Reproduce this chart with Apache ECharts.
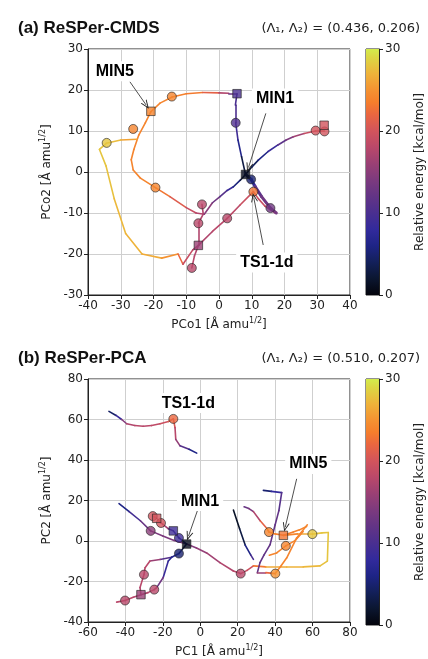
<!DOCTYPE html>
<html>
<head>
<meta charset="utf-8">
<script src="https://cdn.jsdelivr.net/npm/echarts@6/dist/echarts.min.js"></script>
<style>
  html, body { margin: 0; padding: 0; background: #fff; }
  #chart { width: 428px; height: 659px; }
</style>
</head>
<body>
<div id="chart"></div>
<script>
  // each path point: [x, y, relative energy]
  // (a) ReSPer-CMDS
  var cmdsArc = [[-20.8,14.7,24],[-18,16.8,24],[-14.3,18.3,24],[-10,19.1,23.5],[-5,19.4,23],[0,19.3,20],[3,19.2,15],[5.5,19.1,10]];
  var cmdsDown = [[5.5,19.1,10],[5.0,16.3,10],[5.1,12,10.5],[5.8,7.8,8],[6.9,3.7,5],[8.1,-0.6,1]];
  var cmdsLoop = [[-20.8,14.7,24],[-22.5,12,24],[-24.5,9,24],[-26,5.5,24],[-26.8,3,24],[-26.2,0.5,24],[-24,-1.5,24],[-19.4,-3.8,24],[-15,-6,22],[-10,-8.7,20],[-7,-10,18],[-4.5,-10.3,17]];
  var cmdsYellow = [[-25,8,25],[-30,7.8,27],[-34.4,7,28],[-36.5,5.5,28],[-34.5,1.5,28],[-32,-6.5,27.5],[-28.5,-15,27],[-23.5,-20,27],[-17.5,-21,26],[-12.5,-20,24],[-11,-22.5,20],[-8,-19,18],[-6.3,-17.9,17]];
  var cmdsToTS = [[-6.3,-17.9,17],[-2,-14.5,18],[2.5,-11.3,18],[6.5,-8,18.5],[10.5,-4.8,20]];
  var cmdsLow = [[-6.3,-17.9,17],[-7.5,-20.5,18],[-8.3,-23.4,18]];
  var cmdsUp = [[-6.3,-17.9,17],[-6.3,-12.5,18],[-4.8,-10.3,17],[-5.2,-7.9,18]];
  var cmdsToMin1 = [[-4.5,-10.3,16],[-2,-7.5,14],[0.3,-6,12],[2.5,-4.5,10],[4.4,-3.6,7],[6.5,-2,4],[8.1,-0.6,1]];
  var cmdsRight = [[8.1,-0.6,1],[10,1.2,3],[12,2.9,5],[15,5,7],[18,6.6,10],[20.5,7.8,13],[22.7,8.6,15],[26,9.4,18],[29.5,10,20],[32.2,10,20]];
  var cmdsThick = [[8.1,-0.6,1],[9.8,-1.8,5],[11,-3.5,10],[13,-6,13],[15.7,-8.8,13],[17.5,-10,14]];
  var cmdsTSRight = [[10.5,-4.8,20],[12,-6.5,19],[14,-8.3,19],[17.2,-10,19]];
  var cmdsCircles = [[5.1,12,10.5],[9.8,-1.8,5],[10.5,-4.8,23],[15.7,-8.8,13],[2.5,-11.3,18],[-5.2,-7.9,18],[-6.3,-12.5,18],[-8.3,-23.4,18],[-19.4,-3.8,24],[-34.3,7.1,28],[-26.2,10.5,24],[-14.4,18.4,24],[29.5,10.1,20],[32.2,9.9,20]];
  var cmdsSquares = [[5.5,19.1,10],[8.1,-0.6,1],[-6.3,-17.9,16],[-20.8,14.8,24],[32.1,11.4,20]];

  // (b) ReSPer-PCA
  var pcaTop = [[-48.8,64,4],[-45,62,5],[-42,60,12],[-39.3,57.9,17],[-35,57,18],[-30.5,56.7,18],[-26,57,18],[-21.5,57.9,19],[-17,59,20],[-14.4,60.3,22],[-13.5,56,19],[-13.1,50.2,17],[-10.8,47,14],[-6,45.3,8],[-1.9,43.4,4]];
  var pcaDiag = [[-43.4,18.5,4],[-38,14.5,8],[-32,10,11],[-26.5,5,14],[-20,2.5,14],[-14,0.3,14],[-7.3,-1.5,14],[-2,-3.5,15],[3.4,-5.9,16],[10.5,-10.7,17],[17.7,-14.8,18],[21.6,-16.1,18],[25,-14.5,19],[28.4,-12.3,20]];
  var pcaYellow = [[28.4,-12.3,20],[35,-12.8,26],[46.2,-12.8,27],[55,-12.8,27],[64,-12.3,27.5],[67.9,-9.9,28],[68.4,4.2,28],[65,4,28],[59.9,3.4,28],[52,3.5,25],[44.4,2.8,23]];
  var pcaToMin1 = [[-25.4,12.3,20],[-23.3,11.2,20],[-21,8.9,19],[-17,6,14],[-14.4,5,10],[-11.4,1.5,9],[-7.3,-1.5,1]];
  var pcaDownLeft = [[-7.3,-1.5,1],[-11.4,-6.2,5],[-15.3,-8,8],[-21.5,-9.1,14],[-26.9,-9.9,18],[-29.5,-13.2,18],[-30.1,-16.6,18],[-32.2,-23,18],[-31.7,-26.5,17],[-35.8,-27.8,18],[-40.2,-29.4,18],[-44.7,-30.2,18]];
  var pcaBranch = [[-15.3,-8,6],[-17.1,-9.9,7],[-19.8,-18,10],[-23.3,-23,16],[-24.6,-24,18],[-28,-25.5,18],[-31.7,-26.5,17]];
  var pcaDark = [[17.7,15.3,1],[21,6,2],[24,-2,4],[27,-7,8],[28.4,-9.1,12]];
  var pcaHook = [[33.7,25,4],[38,24.5,6],[43.5,23.9,10],[42,15,12],[40,8,12],[37.3,-1.8,12],[34,-7,12],[31.9,-10.7,12],[30.5,-15.6,12],[35,-15.6,20],[40.1,-16.1,24],[43,-12.5,24],[46.2,-8.3,24],[51.5,1.5,24],[57.2,8,24]];
  var pcaOrange = [[23.4,16.9,12],[26,16,13],[28.4,14.5,15],[32,10,20],[35.5,6.3,23],[36.7,4.4,24],[40,3.5,24],[44.4,2.8,23],[49.7,4.5,24],[53,5.5,24],[56.8,7.2,24]];
  var pcaCurve = [[36.9,-7,24],[40.8,-5.9,24],[45.7,-2.4,24],[50.6,0.2,24],[55,4.7,24]];
  var pcaCircles = [[-14.4,60.3,22],[-11.4,-6.2,5],[-11.4,1.5,9],[-26.5,5,15],[-25.4,12.3,20],[-21,8.9,20],[-30.1,-16.6,18],[-24.6,-24,18],[-40.2,-29.4,18],[21.6,-16.1,18],[36.7,4.4,24],[45.7,-2.4,24],[59.9,3.4,28],[40.1,-16.1,25]];
  var pcaSquares = [[-7.3,-1.5,1],[-14.4,5,9],[-23.3,11.2,20],[-31.7,-26.5,16],[44.4,2.8,23]];

  // annotations: [x, y, text], arrows: [x1, y1, x2, y2]
  var cmdsLabels = [[-31.8,24.6,'MIN5'],[17.1,17.9,'MIN1'],[14.6,-22.1,'TS1-1d']];
  var cmdsArrows = [[-27.2,22,-22.2,16.3],[14.3,14.3,9,1.1],[13.5,-17.8,10.6,-6.2]];
  var pcaLabels = [[-6.4,68.1,'TS1-1d'],[57.7,38,'MIN5'],[-0.1,19.7,'MIN1']];
  var pcaArrows = [[51.5,30.7,45.4,6.8],[-1.6,14.8,-6.3,2.4]];

  var cmapStops = [[0,'#04040c'],[2,'#0b1630'],[4,'#13205a'],[6,'#1e2486'],[8,'#322a9c'],[10,'#4a2f90'],[12,'#623486'],[14,'#7c3a7e'],[16,'#9a4074'],[18,'#b9486a'],[20,'#d2545c'],[22,'#ea6640'],[23.5,'#f57e2c'],[25,'#f49232'],[27,'#eeb33a'],[29,'#dcd744'],[30,'#d3ec4c']];

  function hexRgb(h) {
    return [parseInt(h.substr(1,2),16), parseInt(h.substr(3,2),16), parseInt(h.substr(5,2),16)];
  }
  function energyColor(e) {
    if (e <= cmapStops[0][0]) return cmapStops[0][1];
    for (var i = 1; i < cmapStops.length; i++) {
      if (e <= cmapStops[i][0]) {
        var a = cmapStops[i-1], b = cmapStops[i];
        var t = (e - a[0]) / (b[0] - a[0]);
        var ca = hexRgb(a[1]), cb = hexRgb(b[1]);
        var c = ca.map(function (v, k) { return Math.round(v + (cb[k] - v) * t); });
        return 'rgb(' + c.join(',') + ')';
      }
    }
    return cmapStops[cmapStops.length-1][1];
  }

  function segments(paths, width) {
    var out = [];
    paths.forEach(function (p) {
      for (var i = 1; i < p.length; i++) {
        out.push({
          coords: [[p[i-1][0], p[i-1][1]], [p[i][0], p[i][1]]],
          lineStyle: { color: energyColor((p[i-1][2] + p[i][2]) / 2), width: width }
        });
      }
    });
    return out;
  }

  var arrowHead = 'path://M0,10 L5,0 L10,10 L8.6,10 L5,2.8 L1.4,10 Z';
  var axisFont = 'DejaVu Sans';
  var boldFont = 'Liberation Sans';

  function lineSeries(idx, paths, width) {
    return {
      type: 'lines', coordinateSystem: 'cartesian2d', xAxisIndex: idx, yAxisIndex: idx,
      polyline: false, silent: true, z: 2,
      lineStyle: { cap: 'round', opacity: 1 },
      data: segments(paths, width)
    };
  }
  function markerSeries(idx, pts, symbol, size) {
    return {
      type: 'scatter', xAxisIndex: idx, yAxisIndex: idx, symbol: symbol, symbolSize: size, z: 4,
      silent: true,
      data: pts.map(function (p) {
        return { value: [p[0], p[1]], itemStyle: { color: energyColor(p[2]), borderColor: '#222', borderWidth: 0.8 } };
      })
    };
  }
  function labelSeries(idx, labels, arrows) {
    return {
      type: 'scatter', xAxisIndex: idx, yAxisIndex: idx, symbolSize: 1, z: 6, silent: true,
      itemStyle: { color: '#fff', opacity: 1 },
      labelLayout: { hideOverlap: false },
      label: {
        show: true, position: 'inside', formatter: function (p) { return p.value[2]; },
        fontFamily: boldFont, fontWeight: 'bold', fontSize: 16, color: '#000', opacity: 1,
        backgroundColor: '#fff', padding: [2, 4]
      },
      data: labels.map(function (l) { return { value: l }; }),
      markLine: {
        silent: true, animation: false, symbol: ['none', arrowHead], symbolSize: [7, 9],
        label: { show: false },
        lineStyle: { color: '#222', width: 0.8, type: 'solid' },
        data: arrows.map(function (a) { return [{ coord: [a[0], a[1]] }, { coord: [a[2], a[3]] }]; })
      }
    };
  }

  function xAxisFor(idx, min, max, interval, name) {
    return {
      type: 'value', gridIndex: idx, min: min, max: max, interval: interval,
      name: name, nameLocation: 'middle', nameGap: 22,
      nameTextStyle: { rich: supRich() },
      axisLine: { show: true, onZero: false, lineStyle: { color: '#222' } },
      axisTick: { show: true, length: 4, lineStyle: { color: '#222' } },
      axisLabel: { fontFamily: axisFont, fontSize: 12, color: '#222', margin: 5 },
      splitLine: { show: true, lineStyle: { color: '#cfcfcf', width: 1 } }
    };
  }
  function yAxisFor(idx, min, max, interval, name) {
    return {
      type: 'value', gridIndex: idx, min: min, max: max, interval: interval,
      name: name, nameLocation: 'middle', nameGap: 33, nameRotate: 90,
      nameTextStyle: { rich: supRich() },
      axisLine: { show: true, onZero: false, lineStyle: { color: '#222' } },
      axisTick: { show: true, length: 4, lineStyle: { color: '#222' } },
      axisLabel: { fontFamily: axisFont, fontSize: 12, color: '#222', margin: 5 },
      splitLine: { show: true, lineStyle: { color: '#cfcfcf', width: 1 } }
    };
  }
  function supRich() {
    return {
      n: { fontFamily: axisFont, fontSize: 12, color: '#222', lineHeight: 16 },
      s: { fontFamily: axisFont, fontSize: 8, color: '#222', lineHeight: 16, verticalAlign: 'top', padding: [0, 0, 6, 0] }
    };
  }
  function cbarAxis(idx) {
    return {
      type: 'value', gridIndex: idx, min: 0, max: 30, interval: 10, position: 'right',
      name: 'Relative energy [kcal/mol]', nameLocation: 'middle', nameGap: 35, nameRotate: 90,
      nameTextStyle: { fontFamily: axisFont, fontSize: 12, color: '#222' },
      axisLine: { show: true, lineStyle: { color: '#222' } },
      axisTick: { show: true, length: 4, lineStyle: { color: '#222' } },
      axisLabel: { fontFamily: axisFont, fontSize: 12, color: '#222', margin: 6 },
      splitLine: { show: false }
    };
  }
  var gradStops = cmapStops.map(function (s) { return { offset: 1 - s[0] / 30, color: s[1] }; }).reverse();
  function cbarSeries(idx) {
    return {
      type: 'bar', xAxisIndex: idx, yAxisIndex: idx, barWidth: '100%', silent: true,
      itemStyle: { color: new echarts.graphic.LinearGradient(0, 0, 0, 1, gradStops) },
      data: [30]
    };
  }

  var chart = echarts.init(document.getElementById('chart'));
  chart.setOption({
    animation: false,
    backgroundColor: '#fff',
    title: [
      { text: '(a) ReSPer-CMDS', left: 13, top: 15, textStyle: { fontFamily: boldFont, fontWeight: 'bold', fontSize: 17, color: '#111' } },
      { text: '(Λ₁, Λ₂) = (0.436, 0.206)', right: 3, top: 17, textStyle: { fontFamily: axisFont, fontWeight: 'normal', fontSize: 13, color: '#222' } },
      { text: '(b) ReSPer-PCA', left: 13, top: 345, textStyle: { fontFamily: boldFont, fontWeight: 'bold', fontSize: 17, color: '#111' } },
      { text: '(Λ₁, Λ₂) = (0.510, 0.207)', right: 3, top: 347, textStyle: { fontFamily: axisFont, fontWeight: 'normal', fontSize: 13, color: '#222' } }
    ],
    grid: [
      { left: 88, top: 49, width: 262, height: 246, show: true, borderColor: '#222', borderWidth: 1 },
      { left: 88, top: 379, width: 262, height: 246, show: true, borderColor: '#222', borderWidth: 1 },
      { left: 366, top: 49, width: 13, height: 246, show: true, borderColor: '#222', borderWidth: 1 },
      { left: 366, top: 379, width: 13, height: 246, show: true, borderColor: '#222', borderWidth: 1 }
    ],
    xAxis: [
      xAxisFor(0, -40, 40, 10, '{n|PCo1 [Å amu}{s|1/2}{n|]}'),
      xAxisFor(1, -60, 80, 20, '{n|PC1 [Å amu}{s|1/2}{n|]}'),
      { type: 'category', gridIndex: 2, data: ['e'], show: false },
      { type: 'category', gridIndex: 3, data: ['e'], show: false }
    ],
    yAxis: [
      yAxisFor(0, -30, 30, 10, '{n|PCo2 [Å amu}{s|1/2}{n|]}'),
      yAxisFor(1, -40, 80, 20, '{n|PC2 [Å amu}{s|1/2}{n|]}'),
      cbarAxis(2), cbarAxis(3)
    ],
    series: [
      lineSeries(0, [cmdsArc, cmdsDown, cmdsLoop, cmdsYellow, cmdsToTS, cmdsLow, cmdsUp, cmdsToMin1, cmdsRight, cmdsTSRight], 1.6),
      lineSeries(0, [cmdsThick], 3),
      markerSeries(0, cmdsCircles, 'circle', 9),
      markerSeries(0, cmdsSquares, 'rect', 8.5),
      labelSeries(0, cmdsLabels, cmdsArrows),
      lineSeries(1, [pcaTop, pcaDiag, pcaYellow, pcaToMin1, pcaDownLeft, pcaBranch, pcaDark, pcaHook, pcaOrange, pcaCurve], 1.6),
      markerSeries(1, pcaCircles, 'circle', 9),
      markerSeries(1, pcaSquares, 'rect', 8.5),
      labelSeries(1, pcaLabels, pcaArrows),
      cbarSeries(2), cbarSeries(3)
    ]
  });
</script>
</body>
</html>
